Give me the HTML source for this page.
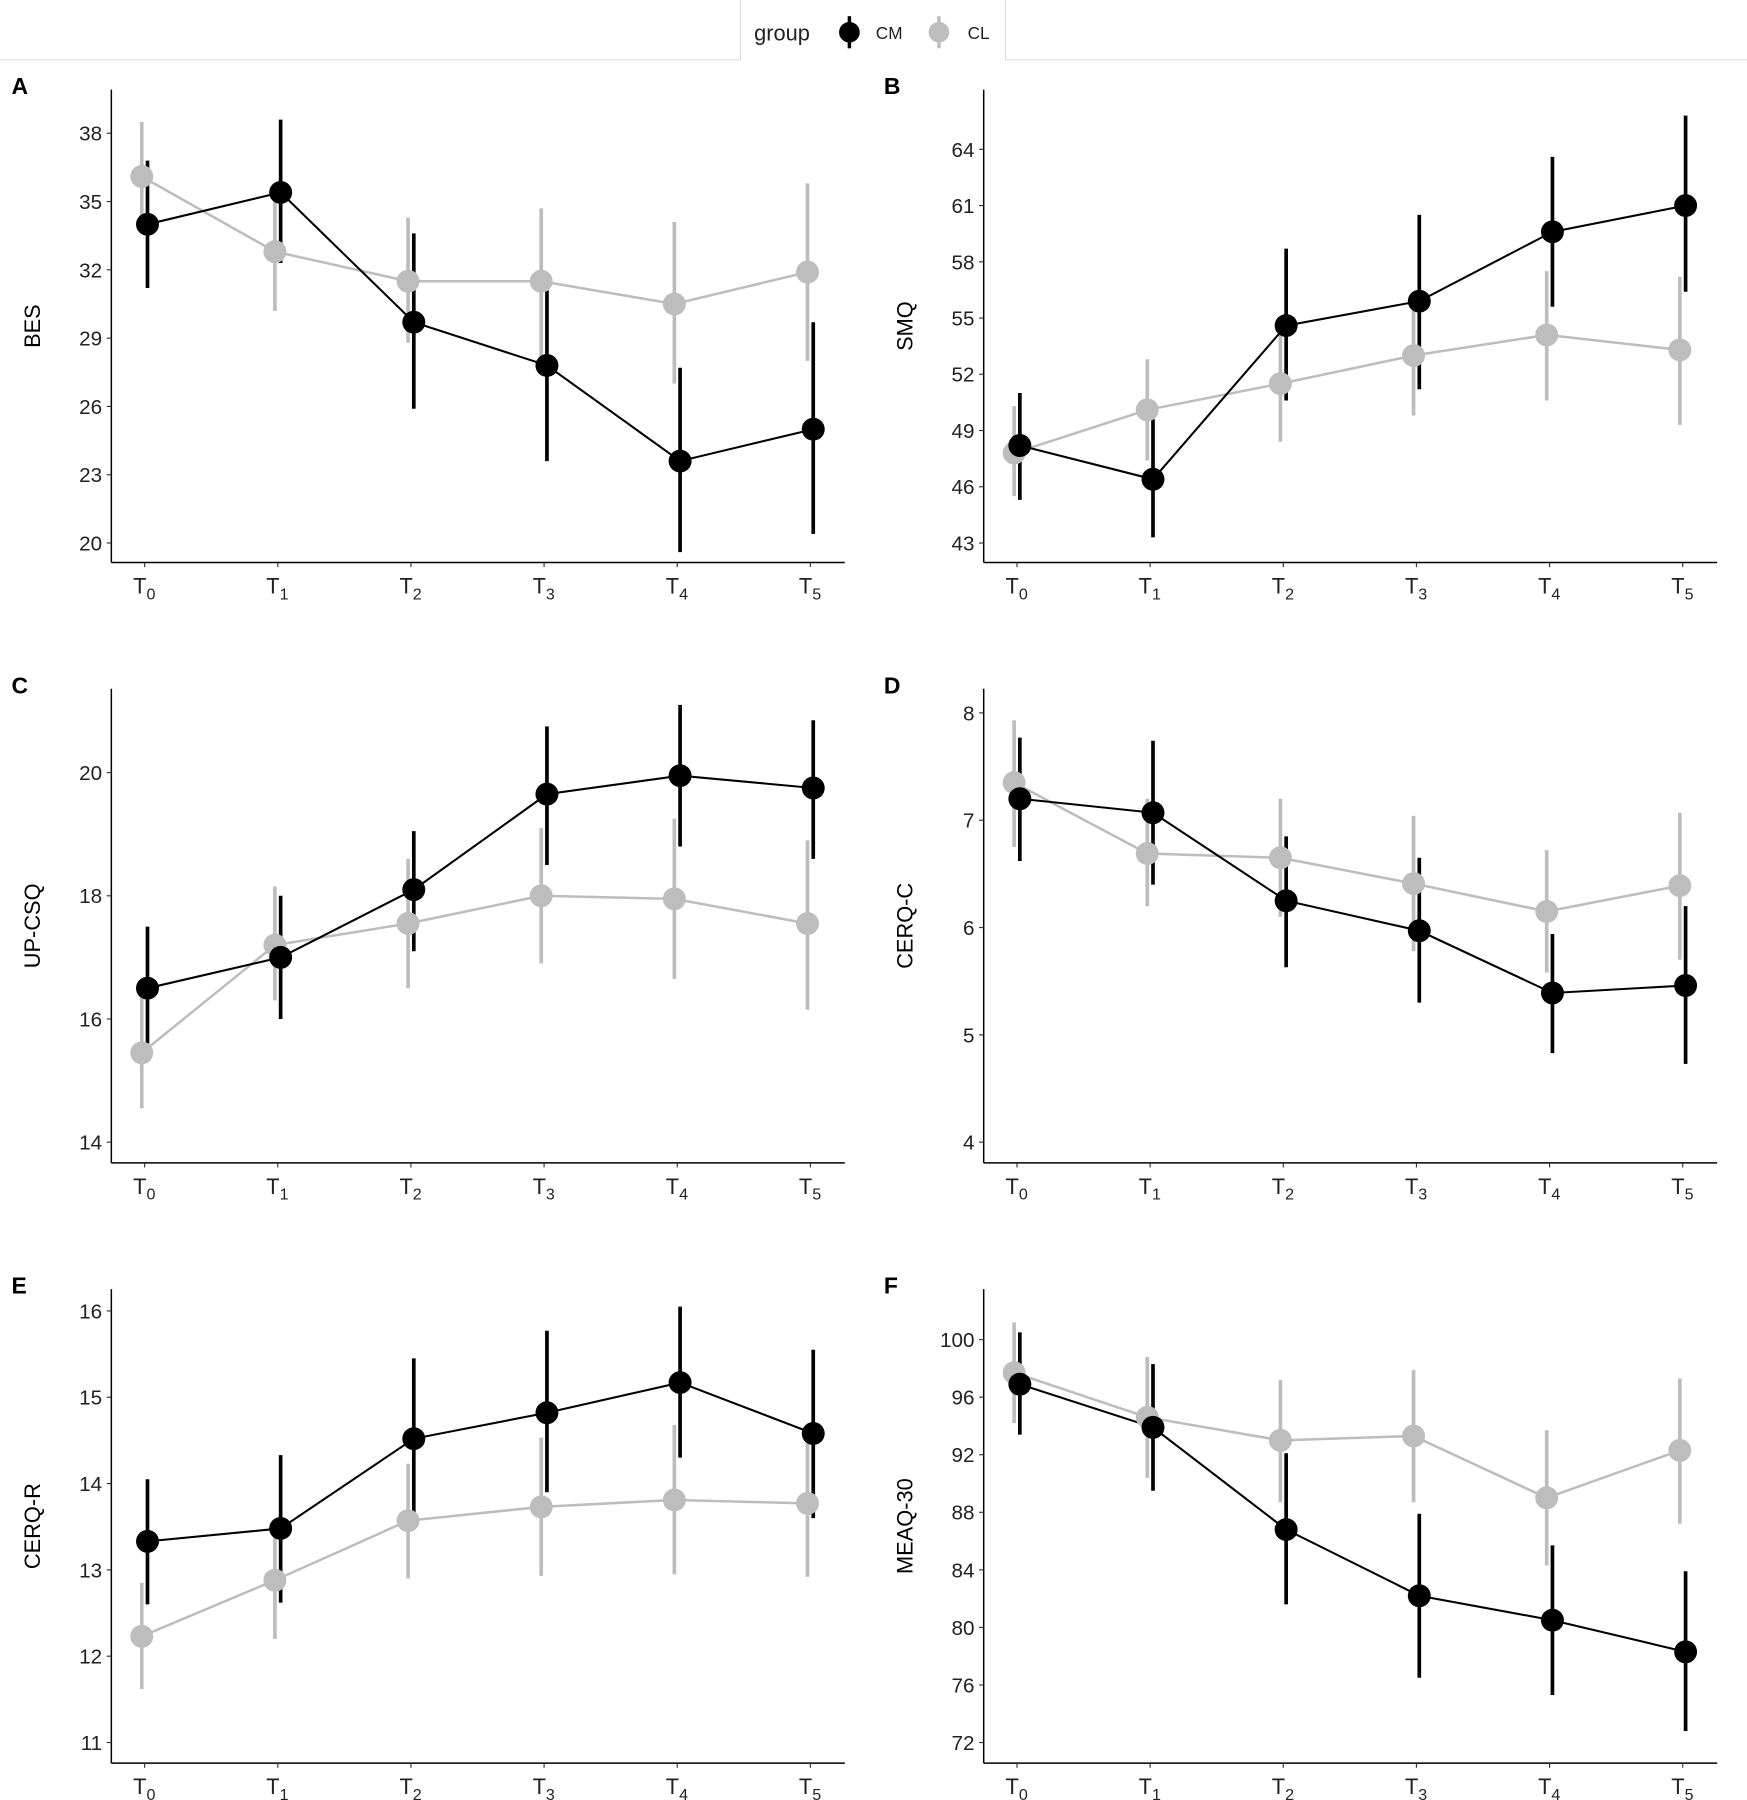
<!DOCTYPE html>
<html><head><meta charset="utf-8">
<style>html,body{margin:0;padding:0;background:#fff}svg{display:block}text{font-family:"Liberation Sans",sans-serif}</style>
</head><body>
<svg id="chart" width="1747" height="1800" viewBox="0 0 1522 1568" xmlns="http://www.w3.org/2000/svg">
<rect width="1522" height="1568" fill="#fff"/>
<g>
<line x1="0" y1="52" x2="645" y2="52" stroke="#ddd" stroke-width="1"/>
<line x1="876" y1="52" x2="1522" y2="52" stroke="#ddd" stroke-width="1"/>
<line x1="645" y1="0" x2="645" y2="52" stroke="#ddd" stroke-width="1"/>
<line x1="876" y1="0" x2="876" y2="52" stroke="#ddd" stroke-width="1"/>
<text x="657" y="35" font-size="19" fill="#222">group</text>
<g><line x1="740" y1="14" x2="740" y2="42" stroke="#000" stroke-width="3"/><circle cx="740" cy="28" r="9" fill="#000"/><text x="763" y="34" font-size="15" fill="#222">CM</text></g>
<g><line x1="818" y1="14" x2="818" y2="42" stroke="#bdbdbd" stroke-width="3"/><circle cx="818" cy="28" r="9" fill="#bdbdbd"/><text x="843" y="34" font-size="15" fill="#222">CL</text></g>
</g>
</svg>
<script>
const timepoints = ["0","1","2","3","4","5"];
// Panel A: BES
const bes_cm = [34.0,35.4,29.7,27.8,23.6,25.0];
const bes_cm_lo = [31.2,32.3,25.9,23.6,19.6,20.4];
const bes_cm_hi = [36.8,38.6,33.6,31.1,27.7,29.7];
const bes_cl = [36.1,32.8,31.5,31.5,30.5,31.9];
const bes_cl_lo = [33.6,30.2,28.8,28.2,27.0,28.0];
const bes_cl_hi = [38.5,35.5,34.3,34.7,34.1,35.8];
const bes_ticks = [20,23,26,29,32,35,38];
// Panel B: SMQ
const smq_cm = [48.2,46.4,54.6,55.9,59.6,61.0];
const smq_cm_lo = [45.3,43.3,50.6,51.2,55.6,56.4];
const smq_cm_hi = [51.0,49.6,58.7,60.5,63.6,65.8];
const smq_cl = [47.8,50.1,51.5,53.0,54.1,53.3];
const smq_cl_lo = [45.5,47.4,48.4,49.8,50.6,49.3];
const smq_cl_hi = [50.3,52.8,54.5,55.6,57.5,57.2];
const smq_ticks = [43,46,49,52,55,58,61,64];
// Panel C: UP-CSQ
const up_cm = [16.5,17.0,18.1,19.65,19.95,19.75];
const up_cm_lo = [15.6,16.0,17.1,18.5,18.8,18.6];
const up_cm_hi = [17.5,18.0,19.05,20.75,21.1,20.85];
const up_cl = [15.45,17.2,17.55,18.0,17.95,17.55];
const up_cl_lo = [14.55,16.3,16.5,16.9,16.65,16.15];
const up_cl_hi = [16.4,18.15,18.6,19.1,19.25,18.9];
const up_ticks = [14,16,18,20];
// Panel D: CERQ-C
const cc_cm = [7.2,7.07,6.25,5.97,5.39,5.46];
const cc_cm_lo = [6.62,6.4,5.63,5.3,4.83,4.73];
const cc_cm_hi = [7.77,7.74,6.85,6.65,5.94,6.2];
const cc_cl = [7.35,6.69,6.65,6.41,6.15,6.39];
const cc_cl_lo = [6.75,6.2,6.1,5.78,5.58,5.7];
const cc_cl_hi = [7.93,7.2,7.2,7.04,6.72,7.07];
const cc_ticks = [4,5,6,7,8];
// Panel E: CERQ-R
const cr_cm = [13.33,13.48,14.52,14.82,15.17,14.58];
const cr_cm_lo = [12.6,12.62,13.6,13.9,14.3,13.6];
const cr_cm_hi = [14.05,14.33,15.45,15.77,16.05,15.55];
const cr_cl = [12.23,12.88,13.57,13.73,13.81,13.77];
const cr_cl_lo = [11.62,12.2,12.9,12.93,12.95,12.92];
const cr_cl_hi = [12.85,13.55,14.23,14.53,14.68,14.62];
const cr_ticks = [11,12,13,14,15,16];
// Panel F: MEAQ-30
const me_cm = [96.9,93.9,86.8,82.2,80.5,78.3];
const me_cm_lo = [93.4,89.5,81.6,76.5,75.3,72.8];
const me_cm_hi = [100.5,98.3,92.1,87.9,85.7,83.9];
const me_cl = [97.7,94.6,93.0,93.3,89.0,92.3];
const me_cl_lo = [94.2,90.4,88.7,88.7,84.3,87.2];
const me_cl_hi = [101.2,98.8,97.2,97.9,93.7,97.3];
const me_ticks = [72,76,80,84,88,92,96,100];

const NS="http://www.w3.org/2000/svg";
const svg=document.getElementById('chart');
function mk(tag,attrs,parent){const e=document.createElementNS(NS,tag);for(const k in attrs)e.setAttribute(k,attrs[k]);(parent||svg).appendChild(e);return e;}

const panels=[
 {id:"a",label:"A",title:"BES",left:97,top:78,bottom:490,x0:126,v1:38,p1:116,v2:20,p2:473,ticks:bes_ticks,cm:bes_cm,cmlo:bes_cm_lo,cmhi:bes_cm_hi,cl:bes_cl,cllo:bes_cl_lo,clhi:bes_cl_hi},
 {id:"b",label:"B",title:"SMQ",left:857,top:78,bottom:490,x0:886,v1:64,p1:130,v2:43,p2:473,ticks:smq_ticks,cm:smq_cm,cmlo:smq_cm_lo,cmhi:smq_cm_hi,cl:smq_cl,cllo:smq_cl_lo,clhi:smq_cl_hi},
 {id:"c",label:"C",title:"UP-CSQ",left:97,top:600,bottom:1013,x0:126,v1:20,p1:673,v2:14,p2:995,ticks:up_ticks,cm:up_cm,cmlo:up_cm_lo,cmhi:up_cm_hi,cl:up_cl,cllo:up_cl_lo,clhi:up_cl_hi},
 {id:"d",label:"D",title:"CERQ-C",left:857,top:600,bottom:1013,x0:886,v1:8,p1:621,v2:4,p2:995,ticks:cc_ticks,cm:cc_cm,cmlo:cc_cm_lo,cmhi:cc_cm_hi,cl:cc_cl,cllo:cc_cl_lo,clhi:cc_cl_hi},
 {id:"e",label:"E",title:"CERQ-R",left:97,top:1123,bottom:1536,x0:126,v1:16,p1:1142,v2:11,p2:1518,ticks:cr_ticks,cm:cr_cm,cmlo:cr_cm_lo,cmhi:cr_cm_hi,cl:cr_cl,cllo:cr_cl_lo,clhi:cr_cl_hi},
 {id:"f",label:"F",title:"MEAQ-30",left:857,top:1123,bottom:1536,x0:886,v1:100,p1:1167,v2:72,p2:1518,ticks:me_ticks,cm:me_cm,cmlo:me_cm_lo,cmhi:me_cm_hi,cl:me_cl,cllo:me_cl_lo,clhi:me_cl_hi}
];
const GRAY="#bdbdbd";
panels.forEach(p=>{
 const g=mk('g',{});
 
 
 const y=v=>p.p2+(v-p.v2)*(p.p1-p.p2)/(p.v1-p.v2);
 const x=i=>p.x0+i*116;
 const right=p.left+639;
 const lab=mk('text',{x:p.left-87,y:p.top+4,'font-size':20,'font-weight':'bold',fill:'#000'},g);lab.textContent=p.label;
 
 
 const ya=mk('line',{x1:p.left,y1:p.top,x2:p.left,y2:p.bottom,stroke:'#000','stroke-width':1.3},g);
 
 
 const xa=mk('line',{x1:p.left,y1:p.bottom,x2:right,y2:p.bottom,stroke:'#000','stroke-width':1.3},g);
 
 
 p.ticks.forEach(t=>{
  mk('line',{x1:p.left-4,y1:y(t),x2:p.left,y2:y(t),stroke:'#333','stroke-width':1},g);
  const tt=mk('text',{x:p.left-8,y:y(t)+6.5,'font-size':18,fill:'#222','text-anchor':'end'},g);tt.textContent=t;
  
  
 });
 timepoints.forEach((t,i)=>{
  mk('line',{x1:x(i),y1:p.bottom,x2:x(i),y2:p.bottom+4,stroke:'#333','stroke-width':1},g);
  const tt=mk('text',{x:x(i)-10,y:p.bottom+27,'font-size':19,fill:'#222'},g);
  
  
  const a=mk('tspan',{},tt);a.textContent='T';
  const b=mk('tspan',{dy:5,'font-size':14},tt);b.textContent=t;
 });
 const at=mk('text',{transform:`translate(${p.left-62},${(p.top+p.bottom)/2}) rotate(-90)`,'font-size':19,fill:'#000','text-anchor':'middle'},g);at.textContent=p.title;
 
 
 const series=[{n:'cl',m:p.cl,lo:p.cllo,hi:p.clhi,c:GRAY,dx:-2.5,lw:2.2},{n:'cm',m:p.cm,lo:p.cmlo,hi:p.cmhi,c:'#000',dx:2.5,lw:1.8}];
 series.forEach(s=>{
  s.m.forEach((v,i)=>{
   const e=mk('line',{x1:x(i)+s.dx,y1:y(s.lo[i]),x2:x(i)+s.dx,y2:y(s.hi[i]),stroke:s.c,'stroke-width':3.2},g);
   
   
  });
 });
 series.forEach(s=>{
  const pl=mk('polyline',{points:s.m.map((v,i)=>`${x(i)+s.dx},${y(v)}`).join(' '),fill:'none',stroke:s.c,'stroke-width':s.lw},g);
  
  
 });
 series.forEach(s=>{
  s.m.forEach((v,i)=>{
   const c=mk('circle',{cx:x(i)+s.dx,cy:y(v),r:10,fill:s.c},g);
   
   
  });
 });
});
</script>
</body></html>
